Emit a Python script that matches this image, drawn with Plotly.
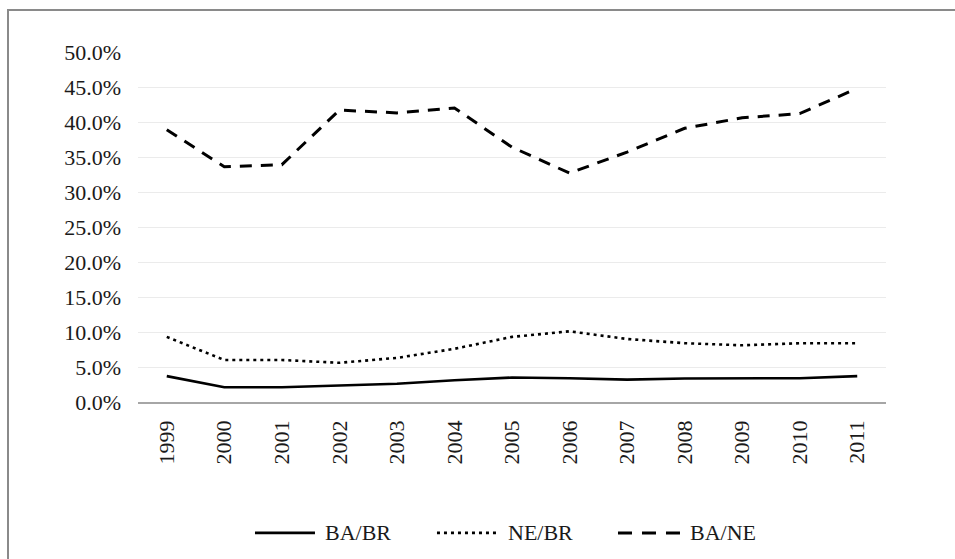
import plotly.graph_objects as go

years = ["1999", "2000", "2001", "2002", "2003", "2004", "2005",
         "2006", "2007", "2008", "2009", "2010", "2011"]

# Shares in percent
ba_br = [3.7, 2.1, 2.1, 2.4, 2.6, 3.1, 3.5, 3.4, 3.2, 3.35, 3.4, 3.4, 3.7]
ne_br = [9.3, 6.0, 6.0, 5.6, 6.3, 7.6, 9.3, 10.1, 9.0, 8.4, 8.1, 8.4, 8.4]
ba_ne = [38.9, 33.6, 33.9, 41.7, 41.3, 42.0, 36.4, 32.7, 35.7, 39.1, 40.6, 41.2, 44.8]

y_ticks = [0, 5, 10, 15, 20, 25, 30, 35, 40, 45, 50]
y_labels = [f"{v:.1f}%" for v in y_ticks]

FONT = "Liberation Serif, Times New Roman, serif"
INK = "#1a1a1a"

series = [
    ("BA/BR", ba_br, dict(color="black", width=2.6, dash="solid")),
    ("NE/BR", ne_br, dict(color="black", width=2.6, dash="3px,4px")),
    ("BA/NE", ba_ne, dict(color="black", width=3, dash="12px,9px")),
]

fig = go.Figure()
for name, vals, style in series:
    fig.add_trace(go.Scatter(x=years, y=vals, name=name, mode="lines",
                             line=style, showlegend=False))

# outer chart frame
fig.add_shape(type="rect", xref="paper", yref="paper",
              x0=-0.1738, x1=1.3, y0=-0.6, y1=1.12,
              line=dict(color="#8a8a8a", width=2), fillcolor="rgba(0,0,0,0)",
              layer="below")

# legend row below the axis: long line samples followed by the series names
legend_y = -0.374
legend_slots = [(0.1564, 0.2366, 0.2473), (0.3997, 0.4800, 0.4920), (0.6417, 0.7259, 0.7353)]
legend_dash = ["solid", "3px,4px", "14px,10px"]
for (name, _, style), (lx0, lx1, tx), dash in zip(series, legend_slots, legend_dash):
    fig.add_shape(type="line", xref="paper", yref="paper",
                  x0=lx0, x1=lx1, y0=legend_y, y1=legend_y,
                  line=dict(color="black", width=style["width"], dash=dash))
    fig.add_annotation(xref="paper", yref="paper", x=tx, y=legend_y,
                       xanchor="left", yanchor="middle", text=name, showarrow=False,
                       font=dict(family=FONT, size=22, color=INK))

fig.update_layout(
    width=955, height=559,
    margin=dict(l=138, r=69, t=52, b=157),
    paper_bgcolor="white", plot_bgcolor="white",
    font=dict(family=FONT, size=22, color=INK),
    showlegend=False,
)
fig.update_xaxes(type="category", range=[-0.5, 12.5], tickangle=-90,
                 showgrid=False, showline=True, linecolor="#a6a6a6", linewidth=1.5,
                 ticks="", tickfont=dict(family=FONT, size=22, color=INK),
                 ticklabelstandoff=8, zeroline=False)
fig.update_yaxes(range=[0, 50], tickvals=y_ticks, ticktext=y_labels,
                 showgrid=True, gridcolor="#ebebeb", gridwidth=1,
                 showline=False, zeroline=False, ticks="",
                 tickfont=dict(family=FONT, size=22, color=INK),
                 ticklabelstandoff=16)

fig.write_html("out.html")
